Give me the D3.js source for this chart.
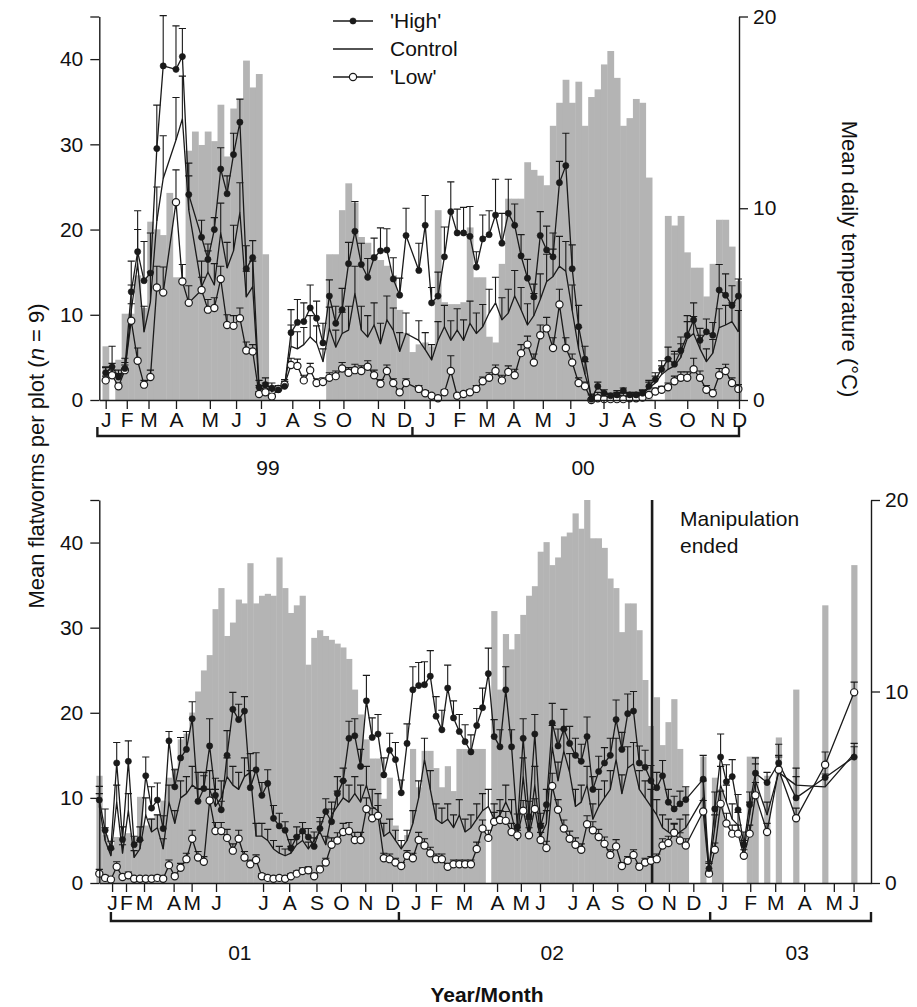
<!DOCTYPE html>
<html><head><meta charset="utf-8">
<script src="https://cdn.jsdelivr.net/npm/d3@7"></script>
<style>
body{margin:0;background:#fff;}
svg text{font-family:"Liberation Sans",Arial,Helvetica,sans-serif;fill:#111;}
</style>
</head><body>
<svg id="chart" width="917" height="1007"></svg>
<script>
// ---------------- DATA: top panel (1999-2000), one entry per sampling occasion ----------------
const topMonths = ["J","F","M","A","M","J","J","A","S","O","N","D","J","F","M","A","M","J","J","A","S","O","N","D"];
const topMonthPos = [0,3.3,6.7,11.0,16.3,20.4,24.3,29.2,33.4,37.2,42.6,46.7,50.7,55.3,59.6,63.8,68.4,72.7,77.9,81.8,85.9,91.0,95.7,99.1];
const topYears = ["99","00"];
const topYearSpan = [[-1.3,48.0],[48.0,99.1]];
const topYearLabelPos = [25.4,74.7];

const topHigh = [3.2,3.9,2.7,3.7,12.7,17.4,14.0,14.9,29.5,39.2,
 null,38.8,40.3,24.1,null,19.1,16.5,20.0,27.1,24.2,
 28.8,32.6,15.4,16.7,1.5,1.8,1.4,1.2,1.6,7.9,
 9.1,9.2,10.8,9.6,6.7,12.2,9.0,10.6,16.0,19.8,
 15.9,14.4,16.7,17.5,17.6,14.2,12.3,19.3,null,15.2,
 20.5,11.4,12.2,16.8,22.1,19.6,19.6,19.2,15.6,18.9,
 19.4,21.7,18.4,21.9,20.5,16.9,14.3,12.1,19.3,17.6,
 16.8,25.5,27.5,15.4,8.6,4.8,0.1,1.6,0.8,0.5,
 0.6,1.1,0.6,0.6,0.8,1.6,2.4,3.6,4.8,4.2,
 5.8,7.6,9.4,7.0,8.0,7.6,12.9,12.3,11.1,12.2];
const topHighErr = [0.7,2.4,0.8,1.2,3.6,4.8,4.6,4.7,5.1,5.9,
 null,5.1,3.3,3.7,null,2.0,1.8,1.4,2.5,2.1,
 2.5,2.7,2.7,2.0,0.8,0.8,0.6,0.5,0.6,2.7,
 2.7,2.2,2.7,2.0,2.3,1.9,2.0,2.5,2.5,3.5,
 2.5,2.2,2.3,2.7,2.5,2.5,2.0,3.2,null,3.2,
 3.5,1.8,2.8,3.5,3.5,2.8,3.0,3.5,1.8,2.8,
 2.8,4.2,3.5,4.0,2.5,2.5,2.2,1.5,2.8,2.8,
 2.8,2.5,3.8,2.8,2.5,1.5,0.5,0.5,0.4,0.3,
 0.5,0.3,0.3,0.3,0.4,0.7,0.8,1.0,1.4,1.5,
 1.6,2.3,2.0,1.4,1.5,1.5,3.0,2.5,2.3,2.0];
const topControl = [3.0,3.3,2.5,3.4,10.5,16.0,8.0,11.5,21.0,26.0,
 null,30.5,33.0,22.3,null,13.3,15.0,13.5,19.6,15.5,
 17.5,22.0,12.1,13.3,1.2,1.5,1.0,1.2,1.8,6.3,
 6.0,6.5,7.4,6.7,4.5,8.4,6.2,7.8,8.2,12.5,
 8.2,7.4,8.8,6.6,9.4,8.2,5.7,7.8,null,7.0,
 5.9,4.7,7.0,8.6,7.0,8.2,7.0,9.0,7.8,8.6,
 10.2,11.4,9.4,10.2,12.2,10.6,8.8,9.9,11.8,13.9,
 14.5,15.7,15.1,10.5,6.0,3.0,0.4,0.6,0.4,0.4,
 0.6,0.5,0.4,0.5,0.7,1.4,2.0,3.0,3.6,4.0,
 5.0,7.2,7.8,6.0,4.5,5.5,8.5,8.8,9.2,8.0];
const topControlErr = [0.8,1.0,0.6,1.0,3.0,4.0,3.0,3.5,4.0,5.0,
 null,5.0,5.0,4.0,null,3.0,2.5,2.5,3.5,3.0,
 3.0,3.5,3.0,3.0,0.5,0.5,0.4,0.4,0.6,2.5,
 2.0,2.0,2.5,2.0,1.5,2.5,2.0,2.5,2.8,3.2,
 2.8,2.5,2.6,2.4,2.8,2.6,2.2,2.4,null,2.3,
 2.0,1.8,2.2,2.5,2.3,2.5,2.4,2.6,2.4,2.6,
 2.8,3.0,2.6,2.8,3.0,2.6,2.5,2.6,3.0,3.2,
 3.2,3.5,3.5,3.0,2.5,1.5,0.3,0.3,0.3,0.3,
 0.3,0.3,0.3,0.3,0.4,0.7,0.8,1.0,1.3,1.4,
 1.6,2.0,2.0,1.6,1.5,1.6,2.2,2.3,2.2,2.5];
const topLow = [2.3,2.9,1.6,3.5,9.3,4.6,1.8,2.7,13.2,12.6,
 null,23.2,13.9,11.4,null,12.9,10.6,10.8,14.2,8.8,
 8.7,9.6,5.8,5.7,0.7,0.9,0.4,1.3,1.8,4.1,
 4.0,2.3,3.5,2.0,2.1,2.6,2.8,3.7,3.2,3.5,
 3.4,3.9,2.9,1.9,3.4,2.0,0.9,2.0,null,1.3,
 0.8,0.5,0.2,0.9,3.4,0.5,0.7,0.9,1.3,2.2,
 2.6,3.4,2.3,3.3,2.9,5.5,6.5,4.4,7.6,8.4,
 6.1,11.2,6.1,4.4,2.0,1.6,0.0,0.2,0.1,0.1,
 0.1,0.1,0.2,0.2,0.3,0.6,1.0,1.2,1.5,2.2,
 2.6,2.6,3.6,2.6,1.2,0.8,2.9,3.4,2.0,1.3];
const topLowErr = [0.5,0.6,0.4,0.6,2.0,1.5,0.5,0.8,2.5,3.0,
 null,3.8,2.0,2.0,null,1.5,1.2,1.2,1.5,1.2,
 1.2,1.2,1.0,0.8,0.3,0.3,0.2,0.3,0.4,0.8,
 0.8,0.6,0.8,0.5,0.5,0.6,0.6,0.7,0.6,0.7,
 0.6,0.7,0.6,0.5,0.7,0.5,0.3,0.5,null,0.4,
 0.3,0.2,0.2,0.3,1.8,0.2,0.3,0.3,0.4,0.5,
 0.6,0.7,0.6,0.7,0.7,1.0,1.0,1.0,1.2,1.3,
 1.2,1.8,1.2,1.0,0.6,0.5,0.1,0.1,0.1,0.1,
 0.1,0.1,0.1,0.1,0.2,0.3,0.4,0.4,0.5,0.6,
 0.7,0.7,1.3,0.8,0.5,0.4,0.8,0.8,0.6,0.5];
const topTemp = [2.8,null,2.1,4.5,4.5,6.5,4.8,9.3,8.9,8.6,
 10.8,6.4,6.4,13.0,14.0,13.3,14.0,13.5,15.4,12.7,
 15.2,15.7,17.7,16.3,17.0,7.6,null,null,null,null,
 null,null,null,null,null,7.6,7.6,9.9,11.3,10.3,
 8.5,8.2,7.6,7.3,7.0,6.5,4.7,3.5,2.5,2.9,
 3.0,2.8,9.9,5.1,5.0,5.0,5.1,9.0,6.4,6.4,
 3.3,3.0,7.1,10.5,10.5,10.5,12.4,12.0,11.7,11.2,
 14.3,15.5,16.7,15.5,16.6,14.3,15.8,16.2,17.5,18.2,
 16.8,14.3,14.7,15.7,15.5,11.6,null,null,9.6,9.1,
 9.6,7.7,6.9,6.9,5.4,7.1,9.4,9.4,8.0,6.2];

// ---------------- DATA: bottom panel (2001-2003) ----------------
const botMonths = ["J","F","M","A","M","J","J","A","S","O","N","D","J","F","M","A","M","J","J","A","S","O","N","D","J","F","M","A","M","J"];
const botMonthPos = [2.2,4.6,7.7,12.8,15.9,20.1,28.2,32.7,37.4,41.6,45.8,50.4,54.5,58.0,62.8,68.5,72.6,75.9,81.5,85.0,89.2,94.0,98.1,102.3,107.3,112.1,116.4,121.4,126.5,129.9];
const botYears = ["01","02","03"];
const botYearSpan = [[2.0,51.6],[51.6,105.2],[105.2,132.9]];
const botYearLabelPos = [24.2,78.0,120.2];
const manipulationEnded = 95.2;

const N = null;
const botHigh = [9.75,6.2,4.1,14.1,5.1,14.3,4.5,5.1,12.6,8.8,
 9.75,6.4,16.7,11.3,14.7,15.7,19.3,9.6,11.1,16.1,
 10.3,8.6,15.0,20.4,19.2,20.2,11.2,13.3,10.3,11.7,
 7.6,6.7,6.2,4.1,5.4,6.1,5.4,4.3,6.4,8.4,
 7.2,10.5,12.0,17.0,17.3,13.7,21.4,17.1,17.5,12.7,
 15.6,14.5,10.6,16.4,22.7,23.2,23.3,24.3,19.6,18.0,
 22.9,19.4,17.8,16.6,15.4,18.5,20.6,24.6,17.2,16.0,
 22.7,16.0,6.6,17.0,7.8,17.5,6.7,9.2,18.8,16.1,
 18.1,16.4,15.0,14.3,17.2,11.0,13.1,14.1,15.0,19.2,
 15.7,19.9,20.2,14.1,13.6,12.0,11.2,12.6,9.5,8.7,
 9.3,9.8,N,N,12.2,1.7,8.7,14.8,11.9,12.5,
 8.6,4.5,9.2,12.9,N,11.8,N,14.1,N,N,
 10.0,N,N,N,N,12.4,N,N,N,N,14.8];
const botHighErr = [1.6,2.5,0.8,2.4,1.5,2.4,1.0,1.5,2.2,2.5,
 2.0,1.5,1.1,2.0,2.4,2.1,2.0,1.5,1.5,3.2,
 2.0,1.0,2.9,2.0,1.8,1.7,2.0,2.0,1.5,1.6,
 1.5,1.5,1.0,1.0,1.2,1.0,1.0,1.0,1.3,1.5,
 1.5,2.0,1.5,2.0,2.0,2.0,3.0,2.3,2.3,2.0,
 2.0,2.0,1.5,2.3,2.7,2.7,2.7,3.0,2.3,2.3,
 2.7,2.0,2.0,2.0,2.0,2.0,2.3,3.0,2.0,2.0,
 2.7,2.0,1.5,2.3,1.8,2.3,1.5,1.8,2.3,2.0,
 2.3,2.0,2.0,2.0,2.3,1.5,1.8,1.8,2.0,2.3,
 2.0,2.3,2.3,2.0,2.0,1.8,1.8,1.8,1.5,1.5,
 1.5,1.5,N,N,2.8,0.8,2.0,2.7,2.0,2.0,
 1.8,1.5,1.5,1.8,N,1.2,N,2.2,N,N,
 2.5,N,N,N,N,1.5,N,N,N,N,1.2];
const botControl = [9.0,5.0,3.2,9.5,3.5,8.5,3.0,4.0,8.0,6.0,
 6.5,4.0,9.5,7.0,10.0,10.5,11.5,11.0,11.0,11.0,
 9.0,10.0,12.5,11.5,11.0,12.5,13.0,5.5,5.5,5.0,
 4.0,3.5,3.2,3.5,4.5,5.0,4.0,5.0,6.0,4.5,
 8.0,9.0,10.0,9.5,10.5,9.5,11.5,9.0,8.5,5.5,
 6.0,5.0,4.0,5.0,7.0,10.0,14.5,11.0,7.5,7.0,
 7.5,6.5,8.0,6.0,6.5,7.5,8.5,9.0,7.5,8.0,
 9.5,8.0,5.0,12.5,6.0,11.5,5.5,7.0,16.0,12.0,
 15.5,13.0,9.0,9.5,11.5,7.5,9.0,10.0,11.0,14.5,
 10.5,13.5,14.0,11.0,10.0,9.0,8.0,6.5,6.0,5.5,
 6.0,6.5,N,N,10.0,1.5,6.5,11.5,9.5,7.5,
 6.8,3.8,8.0,12.0,N,8.0,N,13.0,N,N,
 11.5,N,N,N,N,11.3,N,N,N,N,15.2];
const botControlErr = [1.5,1.5,0.8,2.0,1.0,2.0,0.8,1.0,2.0,1.5,
 1.5,1.2,2.0,1.5,2.0,2.0,2.2,2.0,2.0,2.2,
 2.0,2.0,2.2,2.2,2.0,2.2,2.2,1.5,1.5,1.3,
 1.0,0.8,0.8,0.8,1.0,1.0,0.8,1.0,1.2,1.0,
 1.5,1.8,2.0,2.0,2.0,2.0,2.2,2.0,2.0,1.5,
 1.5,1.2,1.0,1.2,1.5,2.0,2.5,2.2,1.8,1.8,
 1.8,1.5,1.8,1.5,1.5,1.8,2.0,2.0,1.8,1.8,
 2.0,1.8,1.2,2.2,1.5,2.2,1.5,1.5,2.5,2.2,
 2.5,2.2,2.0,2.0,2.2,1.8,2.0,2.0,2.2,2.5,
 2.2,2.5,2.5,2.2,2.0,2.0,1.8,1.5,1.5,1.5,
 1.5,1.5,N,N,2.0,0.8,1.5,2.2,2.0,1.8,
 1.5,1.2,1.5,2.0,N,1.5,N,2.0,N,N,
 2.0,N,N,N,N,1.5,N,N,N,N,1.2];
const botLow = [1.1,0.6,0.4,1.9,0.7,0.9,0.5,0.5,0.5,0.5,
 0.6,0.5,2.1,0.8,1.8,2.8,5.2,3.0,2.5,9.7,
 6.1,6.1,5.3,3.8,5.2,3.0,2.2,2.7,0.8,0.6,
 0.5,0.6,0.5,0.8,1.1,1.4,1.5,0.8,1.6,2.4,
 4.5,5.0,6.0,6.1,5.05,5.05,8.7,7.6,7.9,2.9,
 2.8,2.4,2.0,3.2,2.9,5.05,4.4,3.5,2.8,2.8,
 1.9,2.2,2.2,2.2,2.2,4.0,6.4,5.3,7.2,7.4,
 7.3,6.0,5.6,8.5,5.6,8.7,5.05,4.1,11.4,8.6,
 6.4,5.2,4.5,3.9,6.9,6.2,5.4,4.6,3.3,4.3,
 2.0,2.6,3.3,1.9,2.4,2.6,2.8,4.4,4.7,5.9,
 5.0,4.4,N,N,8.4,1.1,3.9,9.3,7.0,5.8,
 5.8,3.2,5.8,10.3,N,6.0,N,13.3,N,N,
 7.6,N,N,N,N,13.9,N,N,N,N,22.4];
const botLowErr = [0.5,0.3,0.2,0.6,0.3,0.4,0.2,0.2,0.2,0.2,
 0.3,0.2,0.6,0.3,0.5,0.7,1.0,0.7,0.6,1.3,
 1.0,1.0,1.0,0.8,1.0,0.7,0.5,0.6,0.3,0.2,
 0.2,0.2,0.2,0.3,0.3,0.4,0.4,0.3,0.4,0.5,
 0.8,0.9,1.0,1.0,0.9,0.9,1.3,1.2,1.2,0.6,
 0.6,0.5,0.4,0.6,0.6,0.9,0.8,0.7,0.6,0.6,
 0.4,0.5,0.5,0.5,0.5,0.8,1.0,0.9,1.1,1.1,
 1.1,1.0,0.9,1.2,0.9,1.2,0.9,0.8,1.5,1.2,
 1.0,0.9,0.8,0.7,1.0,1.0,0.9,0.8,0.6,0.8,
 0.4,0.5,0.6,0.4,0.5,0.5,0.6,0.8,0.8,1.0,
 0.9,0.8,N,N,1.3,0.3,0.8,1.5,1.2,1.0,
 1.0,0.7,1.0,1.5,N,1.0,N,1.5,N,N,
 1.2,N,N,N,N,1.5,N,N,N,N,1.2];
const botTemp = [5.6,2.5,2.0,2.4,2.2,2.6,2.4,4.5,3.0,3.4,
 3.6,4.3,5.5,6.0,7.5,7.8,8.9,10.0,11.1,11.9,
 14.3,15.4,12.9,13.6,14.8,14.6,16.7,14.6,15.0,15.1,
 15.0,17.0,15.4,14.1,14.5,15.0,11.4,12.8,13.2,12.9,
 12.7,12.5,12.3,11.7,10.1,8.8,7.5,6.5,6.5,4.4,
 5.5,3.0,2.0,2.5,7.0,5.0,6.9,6.9,6.0,5.0,
 6.1,4.8,7.0,7.0,7.0,7.0,7.0,N,14.2,10.1,
 13.0,12.2,13.0,14.0,15.0,15.5,17.3,17.8,16.6,17.0,
 18.1,18.3,19.3,18.5,20.0,18.0,18.0,17.5,15.9,15.4,
 13.1,14.6,14.6,13.2,10.6,8.2,9.7,7.2,8.4,9.6,
 7.0,5.0,N,N,6.6,N,5.5,4.9,N,N,
 N,N,6.6,6.6,N,5.6,N,7.6,N,N,
 10.1,N,N,N,N,14.5,N,N,N,N,16.6];

// ---------------- DRAWING ----------------
const svg = d3.select("#chart");
const BAR = "#b4b4b4", INK = "#1a1a1a";

function drawPanel(o) {
  const g = svg.append("g");
  const idx = d3.range(o.high.length);
  const x = o.x, y = o.y, yT = o.yT, y0 = y(0);
  const bw = Math.abs(x(1) - x(0));

  // temperature bars
  g.append("g").selectAll("rect").data(idx.filter(i => o.temp[i] != null)).join("rect")
    .attr("x", i => x(i) - bw/2).attr("width", bw + 0.4)
    .attr("y", i => yT(o.temp[i])).attr("height", i => y0 - yT(o.temp[i]))
    .attr("fill", BAR);

  if (o.manip != null) {
    g.append("line").attr("x1", x(o.manip)).attr("x2", x(o.manip))
      .attr("y1", y(45)).attr("y2", y0).attr("stroke", INK).attr("stroke-width", 2.6);
  }

  const series = [
    {v:o.control, e:o.controlErr, m:null},
    {v:o.low, e:o.lowErr, m:"open"},
    {v:o.high, e:o.highErr, m:"filled"}
  ];
  series.forEach(s => {
    const def = idx.filter(i => s.v[i] != null);
    g.append("g").selectAll("path").data(def.filter(i => s.e[i] != null)).join("path")
      .attr("d", i => {
        const xx = x(i), a = y(s.v[i]), b = y(s.v[i] + s.e[i]);
        return `M${xx},${a}V${b}M${xx-3.6},${b}H${xx+3.6}`;
      })
      .attr("fill","none").attr("stroke", INK).attr("stroke-width", 1.1);
    g.append("path").datum(def)
      .attr("d", d3.line().x(i => x(i)).y(i => y(s.v[i])))
      .attr("fill","none").attr("stroke", INK).attr("stroke-width", 1.3)
      .attr("stroke-linejoin","round");
  });
  series.forEach(s => {
    if (!s.m) return;
    const def = idx.filter(i => s.v[i] != null);
    g.append("g").selectAll("circle").data(def).join("circle")
      .attr("cx", i => x(i)).attr("cy", i => y(s.v[i]))
      .attr("r", s.m === "filled" ? 3.1 : 3.6)
      .attr("fill", s.m === "filled" ? INK : "#fff")
      .attr("stroke", INK).attr("stroke-width", s.m === "filled" ? 0.6 : 1.2);
  });

  const fs = "21px";
  const left = g.append("g").attr("transform", `translate(${o.xLeft},0)`)
    .call(d3.axisLeft(y).tickValues([0,10,20,30,40,45]).tickFormat(d => d === 45 ? "" : d)
      .tickSize(9).tickSizeOuter(0).tickPadding(7));
  const right = g.append("g").attr("transform", `translate(${o.xRight},0)`)
    .call(d3.axisRight(yT).tickValues([0,10,20]).tickSize(9).tickSizeOuter(0).tickPadding(5));
  const bottom = g.append("g").attr("transform", `translate(0,${y0})`)
    .call(d3.axisBottom(x).tickValues(o.monthPos).tickFormat((d,k) => o.months[k])
      .tickSize(9).tickSizeOuter(0).tickPadding(3));
  [left, right, bottom].forEach(a => {
    a.selectAll("path.domain").attr("stroke", INK).attr("stroke-width", 1.4);
    a.selectAll(".tick line").attr("stroke", INK).attr("stroke-width", 1.3);
    a.selectAll("text").attr("font-size", fs).attr("fill", "#111")
      .attr("font-family", '"Liberation Sans", Arial, sans-serif');
  });
  const by = o.bracketY;
  let d = "";
  o.yearSpan.forEach(([a,b]) => { d += `M${x(a)},${by-9}V${by}H${x(b)}V${by-9}`; });
  g.append("path").attr("d", d).attr("fill","none").attr("stroke", INK).attr("stroke-width", 2.4);
  g.selectAll(null).data(o.years).join("text")
    .attr("x", (t,k) => x(o.yearLabelPos[k])).attr("y", by + 39)
    .attr("text-anchor","middle").attr("font-size", "21px").text(t => t);
}

const topY = d3.scaleLinear().domain([0,45]).range([400,16.5]);
const topT = d3.scaleLinear().domain([0,20]).range([400,16.5]);
const topX = d3.scaleLinear().domain([-1,99.1]).range([99.3,739]);
drawPanel({x:topX, y:topY, yT:topT, xLeft:99.3, xRight:739,
  high:topHigh, highErr:topHighErr, control:topControl, controlErr:topControlErr,
  low:topLow, lowErr:topLowErr, temp:topTemp,
  months:topMonths, monthPos:topMonthPos, years:topYears, yearSpan:topYearSpan,
  yearLabelPos:topYearLabelPos, bracketY:436, manip:null});

const botY = d3.scaleLinear().domain([0,45]).range([883,500]);
const botT = d3.scaleLinear().domain([0,20]).range([883,500]);
const botX = d3.scaleLinear().domain([0,132.9]).range([99.3,871]);
drawPanel({x:botX, y:botY, yT:botT, xLeft:99.3, xRight:871,
  high:botHigh, highErr:botHighErr, control:botControl, controlErr:botControlErr,
  low:botLow, lowErr:botLowErr, temp:botTemp,
  months:botMonths, monthPos:botMonthPos, years:botYears, yearSpan:botYearSpan,
  yearLabelPos:botYearLabelPos, bracketY:921, manip:manipulationEnded});

const legendItems = [{label:"'High'", m:"filled"},{label:"Control", m:null},{label:"'Low'", m:"open"}];
const lg = svg.append("g");
legendItems.forEach((it,k) => {
  const yy = 21 + k*28;
  lg.append("line").attr("x1",333).attr("x2",373).attr("y1",yy).attr("y2",yy)
    .attr("stroke",INK).attr("stroke-width",1.3);
  if (it.m) lg.append("circle").attr("cx",353).attr("cy",yy).attr("r", it.m==="filled"?3.1:3.6)
    .attr("fill", it.m==="filled"?INK:"#fff").attr("stroke",INK).attr("stroke-width", it.m==="filled"?0.6:1.2);
  lg.append("text").attr("x",390).attr("y",yy+7).attr("font-size","21px").text(it.label);
});

svg.append("text").attr("transform","translate(44,456) rotate(-90)").attr("text-anchor","middle")
  .attr("font-size","22px")
  .call(t => { t.append("tspan").text("Mean flatworms per plot (");
               t.append("tspan").attr("font-style","italic").text("n");
               t.append("tspan").text(" = 9)"); });
svg.append("text").attr("transform","translate(842,259) rotate(90)").attr("text-anchor","middle")
  .attr("font-size","22px").text("Mean daily temperature (°C)");
svg.append("text").attr("x",680).attr("y",526).attr("font-size","21px").text("Manipulation");
svg.append("text").attr("x",680).attr("y",553).attr("font-size","21px").text("ended");
svg.append("text").attr("x",487).attr("y",1002).attr("text-anchor","middle")
  .attr("font-size","21px").attr("font-weight","bold").text("Year/Month");
</script>
</body></html>
